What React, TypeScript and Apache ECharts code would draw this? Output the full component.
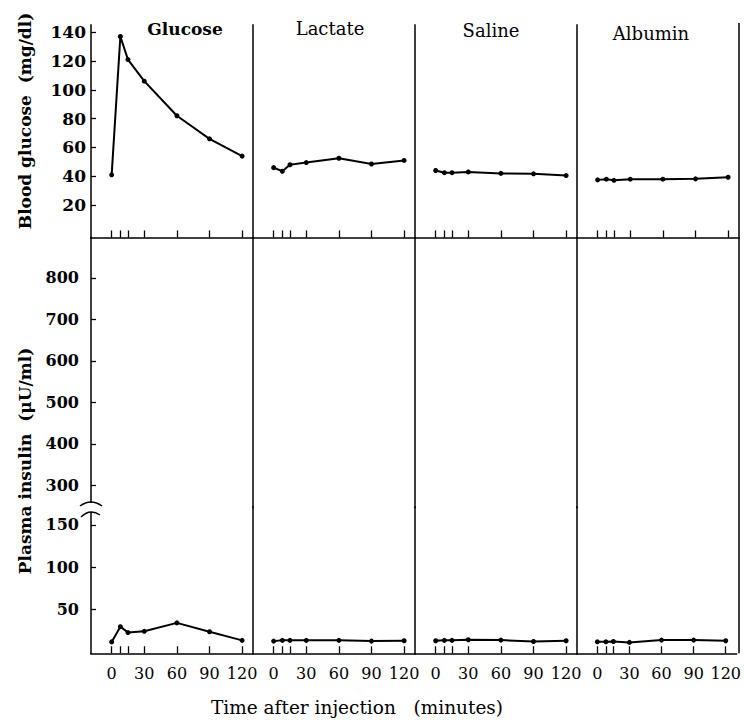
import React, { useEffect, useRef } from "react";
import * as echarts from "echarts";

// ---- data ----
const panelNames = ["Glucose", "Lactate", "Saline", "Albumin"];
const times = [0, 8, 15, 30, 60, 90, 120];
const xTickValues = [0, 8, 15, 30, 60, 90, 120];
const xLabelValues = [0, 30, 60, 90, 120];
const glucoseTickValues = [20, 40, 60, 80, 100, 120, 140];
const insulinHighTickValues = [300, 400, 500, 600, 700, 800];
const insulinLowTickValues = [50, 100, 150];

// blood glucose (mg/dl)
const bgGlucose = [41, 137, 121, 106, 82, 66, 54];
const bgLactate = [46, 43.5, 48, 49.5, 52.5, 48.5, 51];
const bgSaline = [44, 42.5, 42.5, 43, 42, 41.7, 40.5];
const bgAlbumin = [37.5, 38, 37.2, 38, 38, 38.2, 39.3];

// plasma insulin (µU/ml)
const insGlucose = [11.5, 29.5, 22.5, 24, 34, 23.5, 13.3];
const insLactate = [12.4, 13.3, 13.3, 13.3, 13.3, 12.4, 12.8];
const insSaline = [12.8, 13.3, 13.3, 14, 13.6, 12, 12.8];
const insAlbumin = [11.6, 11.6, 12, 10.9, 13.6, 13.6, 12.8];

const bgSeries = [bgGlucose, bgLactate, bgSaline, bgAlbumin];
const insSeries = [insGlucose, insLactate, insSaline, insAlbumin];

const FONT = "DejaVu Serif";

export default function App() {
  const ref = useRef<HTMLDivElement>(null);
  useEffect(() => {
    if (!ref.current) return;
    const chart = echarts.init(ref.current, undefined, { renderer: "svg" });

    const panelLeft = [91, 253, 415, 577];
    const panelWidth = 162;
    const axisLine = {
      show: true,
      onZero: false,
      lineStyle: { color: "#000", width: 1.5, cap: "square" },
    };

    const grids: any[] = [];
    const xAxes: any[] = [];
    const yAxes: any[] = [];
    const series: any[] = [];

    panelNames.forEach((_, i) => {
      const left = panelLeft[i];
      grids.push({ left, width: panelWidth, top: 25, height: 212.5 });
      grids.push({ left, width: panelWidth, top: 237.5, height: 270 });
      grids.push({ left, width: panelWidth, top: 507, height: 146.3 });

      const gTop = i * 3;
      const gHigh = i * 3 + 1;
      const gLow = i * 3 + 2;

      const xTick = {
        show: true,
        inside: true,
        length: 7,
        customValues: xTickValues,
        lineStyle: { color: "#000", width: 1.3 },
      };

      xAxes.push({
        type: "value",
        gridIndex: gTop,
        position: "bottom",
        min: -19,
        max: 130,
        axisLine,
        axisTick: xTick,
        axisLabel: { show: false },
        splitLine: { show: false },
      });
      xAxes.push({
        type: "value",
        gridIndex: gHigh,
        min: -19,
        max: 130,
        show: false,
      });
      xAxes.push({
        type: "value",
        gridIndex: gLow,
        position: "bottom",
        min: -19,
        max: 130,
        axisLine,
        axisTick: xTick,
        axisLabel: {
          show: true,
          customValues: xLabelValues,
          margin: 12,
          color: "#000",
          fontFamily: FONT,
          fontSize: 16,
        },
        splitLine: { show: false },
      });

      const first = i === 0;
      const yTick = (vals: number[]) => ({
        show: first,
        inside: true,
        length: 5,
        customValues: vals,
        lineStyle: { color: "#000", width: 1.3 },
      });
      const yLabel = (vals: number[], margin: number, size: number) => ({
        show: first,
        customValues: vals,
        margin,
        color: "#000",
        fontFamily: FONT,
        fontSize: size,
        fontWeight: "bold",
      });

      yAxes.push({
        type: "value",
        gridIndex: gTop,
        position: "left",
        min: -2.5,
        max: 145,
        axisLine,
        axisTick: yTick(glucoseTickValues),
        axisLabel: yLabel(glucoseTickValues, 5, 17),
        splitLine: { show: false },
      });
      yAxes.push({
        type: "value",
        gridIndex: gHigh,
        position: "left",
        min: 247,
        max: 897,
        axisLine,
        axisTick: yTick(insulinHighTickValues),
        axisLabel: yLabel(insulinHighTickValues, 12, 16),
        splitLine: { show: false },
      });
      yAxes.push({
        type: "value",
        gridIndex: gLow,
        position: "left",
        min: -2,
        max: 171,
        axisLine,
        axisTick: yTick(insulinLowTickValues),
        axisLabel: yLabel(insulinLowTickValues, 12, 16),
        splitLine: { show: false },
      });

      const lineSeries = (xIdx: number, yIdx: number, vals: number[], name: string) => ({
        type: "line",
        name,
        xAxisIndex: xIdx,
        yAxisIndex: yIdx,
        data: times.map((t, j) => [t, vals[j]]),
        symbol: "circle",
        symbolSize: 5,
        lineStyle: { color: "#000", width: 2 },
        itemStyle: { color: "#000" },
        clip: false,
      });
      series.push(lineSeries(gTop, gTop, bgSeries[i], panelNames[i] + " blood glucose"));
      series.push(lineSeries(gLow, gLow, insSeries[i], panelNames[i] + " insulin"));
    });

    const titlePos = [
      { x: 185, y: 29, bold: true, size: 17 },
      { x: 330, y: 28, bold: false, size: 18 },
      { x: 491, y: 30, bold: false, size: 18 },
      { x: 651, y: 33, bold: false, size: 18 },
    ];

    const graphics: any[] = panelNames.map((n, i) => ({
      type: "text",
      x: titlePos[i].x,
      y: titlePos[i].y,
      style: {
        text: n,
        fill: "#000",
        font: `${titlePos[i].bold ? "bold " : ""}${titlePos[i].size}px '${FONT}'`,
        textAlign: "center",
        textVerticalAlign: "middle",
      },
    }));

    graphics.push(
      // right frame edge
      {
        type: "line",
        shape: { x1: 739, y1: 23, x2: 739, y2: 653.3 },
        style: { stroke: "#000", lineWidth: 1.5 },
      },
      {
        type: "text",
        x: 25,
        y: 121,
        rotation: Math.PI / 2,
        style: {
          text: "Blood glucose  (mg/dl)",
          fill: "#000",
          font: `bold 17px '${FONT}'`,
          textAlign: "center",
          textVerticalAlign: "middle",
        },
      },
      {
        type: "text",
        x: 25,
        y: 461,
        rotation: Math.PI / 2,
        style: {
          text: "Plasma insulin  (μU/ml)",
          fill: "#000",
          font: `bold 17px '${FONT}'`,
          textAlign: "center",
          textVerticalAlign: "middle",
        },
      },
      {
        type: "text",
        x: 357,
        y: 707,
        style: {
          text: "Time after injection   (minutes)",
          fill: "#000",
          font: `18.5px '${FONT}'`,
          textAlign: "center",
          textVerticalAlign: "middle",
        },
      },
      // axis break marks
      {
        type: "rect",
        shape: { x: 87, y: 503, width: 8, height: 9 },
        style: { fill: "#fff" },
        z: 100,
      },
      {
        type: "bezierCurve",
        shape: { x1: 80, y1: 506, cpx1: 91, cpy1: 498, x2: 102, y2: 506 },
        style: { stroke: "#000", lineWidth: 1.5, fill: null },
        z: 101,
      },
      {
        type: "bezierCurve",
        shape: { x1: 81, y1: 517, cpx1: 90, cpy1: 508, x2: 100, y2: 515 },
        style: { stroke: "#000", lineWidth: 1.5, fill: null },
        z: 101,
      }
    );

    chart.setOption({
      animation: false,
      backgroundColor: "#fff",
      grid: grids,
      xAxis: xAxes,
      yAxis: yAxes,
      series,
      graphic: graphics,
    });

    return () => chart.dispose();
  }, []);

  return (
    <div
      ref={ref}
      style={{ position: "fixed", left: 0, top: 0, width: 744, height: 720 }}
    />
  );
}
